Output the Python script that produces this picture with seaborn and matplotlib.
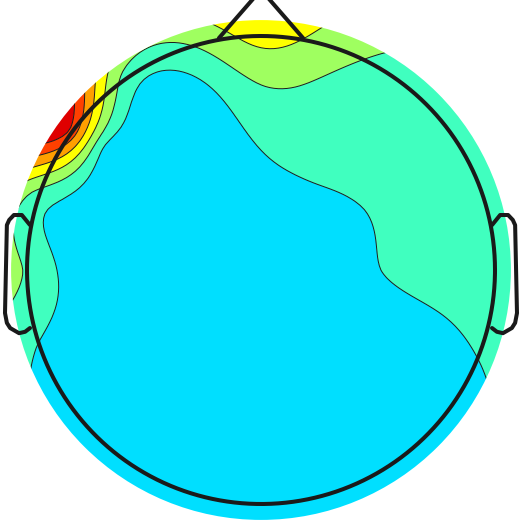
import numpy as np
import matplotlib
matplotlib.use("Agg")
import matplotlib.pyplot as plt
from matplotlib.patches import Circle
import seaborn as sns

# ---------------- data: electrode positions (polar, EEGLAB style) and values ----------------
# theta in degrees (0 = nose, positive = right), radius (0.5 = head outline)
ring4_theta = [0, 18, 36, 54, 72, 90, 108, 126, 144, 162, 180, 198, 216, 234, 252, 270, 288, 306, 324, 342]
ring4_values = [1.35, 0.65, 0.0, -0.1, -0.15, -0.2, -0.4, -0.75, -0.95, -1.0, -1.05, -1.05, -1.0, -0.8, -0.45, 0.27, 0.05, 3.4, 0.25, 0.3]
ring3_theta = [0, 22.5, 45, 67.5, 90, 112.5, 135, 157.5, 180, 202.5, 225, 247.5, 270, 292.5, 315, 337.5]
ring3_values = [0.15, -0.1, -0.2, -0.3, -0.35, -0.65, -0.9, -1.0, -1.05, -1.05, -1.0, -0.9, -0.85, -0.95, -1.0, -1.0]
ring2_theta = [0, 30, 60, 90, 120, 150, 180, 210, 240, 270, 300, 330]
ring2_values = [-0.5, -0.35, -0.5, -0.5, -0.8, -1.0, -1.05, -1.05, -1.0, -0.95, -0.95, -0.9]
ring1_theta = [0, 45, 90, 135, 180, 225, 270, 315]
ring1_values = [-0.8, -0.9, -0.85, -1.0, -1.05, -1.05, -1.0, -0.95]
cz_value = [-1.0]
ring_radius = [0.511, 0.383, 0.256, 0.128, 0.0]
# extra left-frontal electrodes (F5, AF5, FC5-like positions)
extra_theta = [308, 322, 292]
extra_radius = [0.42, 0.44, 0.44]
extra_values = [-0.7, -0.65, -0.45]

# contour levels (data units) and map limits
contour_levels = [-0.5, 0.25, 1.0, 1.75, 2.5, 3.25]
band_lower = [-1.25, -0.5, 0.25, 1.0, 1.75, 2.5, 3.25]
map_limits = [-4.0, 4.0]

# ---------------- assemble electrodes ----------------
thetas = np.array(ring4_theta + ring3_theta + ring2_theta + ring1_theta + [0.0] + extra_theta)
radii = np.array([ring_radius[0]] * len(ring4_theta) + [ring_radius[1]] * len(ring3_theta)
                 + [ring_radius[2]] * len(ring2_theta) + [ring_radius[3]] * len(ring1_theta)
                 + [ring_radius[4]] + extra_radius)
values = np.array(ring4_values + ring3_values + ring2_values + ring1_values + cz_value + extra_values)
ex = radii * np.sin(np.deg2rad(thetas))
ey = radii * np.cos(np.deg2rad(thetas))

# biharmonic spline interpolation (MATLAB griddata 'v4')
def green(d):
    with np.errstate(divide="ignore", invalid="ignore"):
        g = d ** 2 * (np.log(d) - 1.0)
    g[d == 0] = 0.0
    return g

pts = np.column_stack([ex, ey])
D = np.sqrt(((pts[:, None, :] - pts[None, :, :]) ** 2).sum(-1))
w = np.linalg.solve(green(D), values)

plotrad = 0.534
n_grid = 121
gx = np.linspace(-plotrad - 0.02, plotrad + 0.02, n_grid)
GX, GY = np.meshgrid(gx, gx)
gpts = np.column_stack([GX.ravel(), GY.ravel()])
Dg = np.sqrt(((gpts[:, None, :] - pts[None, :, :]) ** 2).sum(-1))
Z = (green(Dg) @ w).reshape(GX.shape)

# MATLAB-style jet colours for the filled bands
def mjet(x):
    r = np.clip(1.5 - abs(4 * x - 3), 0, 1)
    g = np.clip(1.5 - abs(4 * x - 2), 0, 1)
    b = np.clip(1.5 - abs(4 * x - 1), 0, 1)
    return (r, g, b)

band_colors = [mjet((v - map_limits[0]) / (map_limits[1] - map_limits[0])) for v in band_lower]

# ---------------- plot ----------------
sns.set_theme(style="white")
fig = plt.figure(figsize=(5.21, 5.21), dpi=100)
ax = fig.add_axes([0, 0, 1, 1])
ax.set_xlim(-261 / 468, 260 / 468)
ax.set_ylim(-251 / 468, 270 / 468)
ax.axis("off")

disc = Circle((0, 0), plotrad, transform=ax.transData, facecolor="none", edgecolor="none")
ax.add_patch(disc)
fill_levels = [-100.0] + contour_levels + [100.0]
cf = ax.contourf(GX, GY, Z, levels=fill_levels, colors=band_colors, antialiased=True)
cf.set_clip_path(disc)
cl = ax.contour(GX, GY, Z, levels=contour_levels, colors="k", linewidths=0.7, linestyles="solid")
cl.set_clip_path(disc)

# head outline
t = np.linspace(0, 2 * np.pi, 400)
hw = 2.9
ax.plot(0.5 * np.cos(t), 0.5 * np.sin(t), color="k", lw=hw)
nose_x = [0.09, 0.012, 0.0, -0.012, -0.09]
nose_y = [0.4954, 0.585, 0.59, 0.585, 0.4954]
ax.plot(nose_x, nose_y, color="k", lw=hw)
ear_x = [0.4936, 0.511, 0.528, 0.538, 0.543, 0.547, 0.543, 0.536, 0.517, 0.504, 0.4936]
ear_y = [0.096, 0.1175, 0.1175, 0.107, 0.096, -0.092, -0.113, -0.124, -0.135, -0.132, -0.124]
ax.plot(ear_x, ear_y, color="k", lw=hw)
ax.plot([-v for v in ear_x], ear_y, color="k", lw=hw)

fig.savefig("out.png", dpi=100, facecolor="white")
